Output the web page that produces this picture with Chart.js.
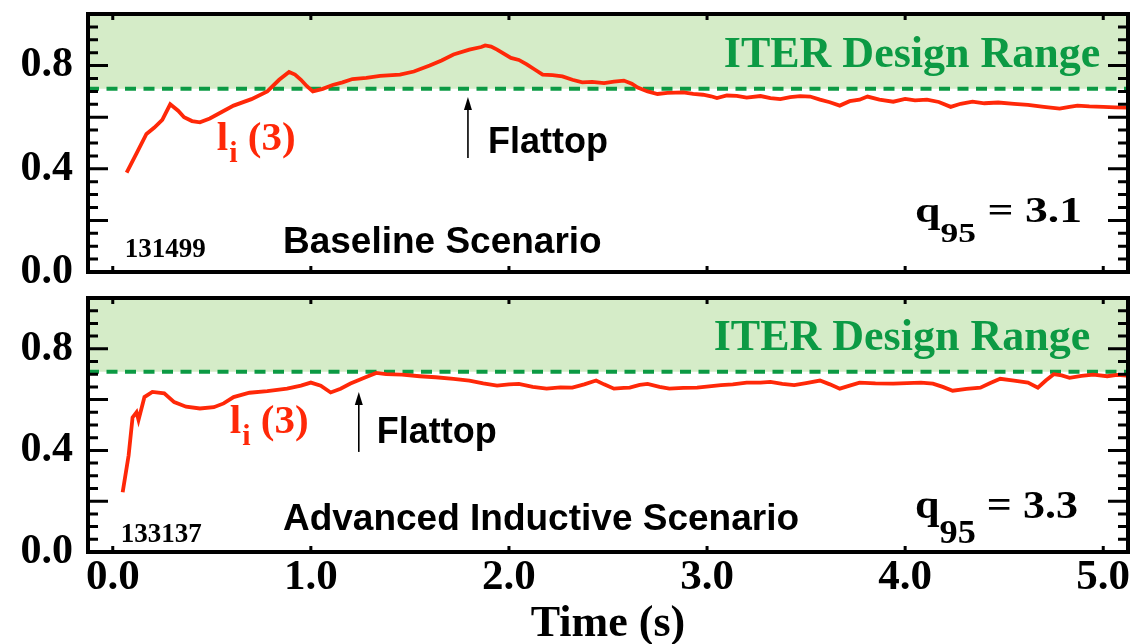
<!DOCTYPE html>
<html>
<head>
<meta charset="utf-8">
<title>li(3) vs ITER design range</title>
<script src="https://cdn.jsdelivr.net/npm/chart.js"></script>
<style>
  html, body { margin: 0; padding: 0; background: #fff; }
  #wrap { position: relative; width: 1134px; height: 644px; }
  #wrap canvas { position: absolute; left: 0; top: 0; }
</style>
</head>
<body>
<div id="wrap">
  <canvas id="topChart" width="1134" height="644"></canvas>
  <canvas id="bottomChart" width="1134" height="644"></canvas>
</div>
<script>
// shot 131499 - baseline scenario
const timeTop = [0.07, 0.12, 0.17, 0.21, 0.25, 0.29, 0.33, 0.36, 0.40, 0.44, 0.49, 0.55, 0.61, 0.70, 0.78, 0.84, 0.89, 0.92, 0.95, 0.98,
  1.01, 1.06, 1.11, 1.16, 1.21, 1.28, 1.35, 1.45, 1.52, 1.60, 1.66, 1.72, 1.80, 1.86, 1.88, 1.91, 1.94, 2.01, 2.05, 2.09,
  2.13, 2.17, 2.22, 2.27, 2.32, 2.37, 2.42, 2.48, 2.53, 2.58, 2.62, 2.65, 2.70, 2.75, 2.80, 2.88, 2.93, 2.98, 3.02, 3.05,
  3.10, 3.15, 3.20, 3.27, 3.32, 3.37, 3.42, 3.47, 3.52, 3.57, 3.62, 3.67, 3.72, 3.77, 3.81, 3.87, 3.94, 4.00, 4.05, 4.11,
  4.17, 4.23, 4.28, 4.34, 4.40, 4.47, 4.55, 4.62, 4.70, 4.78, 4.83, 4.87, 4.93, 5.00, 5.06, 5.12];
const liTop = [0.385, 0.46, 0.535, 0.56, 0.59, 0.65, 0.625, 0.60, 0.585, 0.58, 0.595, 0.62, 0.645, 0.67, 0.70, 0.745, 0.775, 0.765, 0.745, 0.72,
  0.70, 0.71, 0.725, 0.735, 0.748, 0.752, 0.76, 0.765, 0.777, 0.80, 0.82, 0.843, 0.862, 0.872, 0.878, 0.874, 0.862, 0.83, 0.822, 0.805,
  0.785, 0.765, 0.763, 0.758, 0.745, 0.735, 0.737, 0.732, 0.738, 0.742, 0.73, 0.715, 0.70, 0.69, 0.694, 0.696, 0.69, 0.687, 0.681, 0.674,
  0.684, 0.683, 0.676, 0.682, 0.674, 0.67, 0.678, 0.682, 0.68, 0.668, 0.658, 0.645, 0.662, 0.668, 0.68, 0.668, 0.66, 0.671, 0.665, 0.668,
  0.659, 0.64, 0.652, 0.66, 0.654, 0.657, 0.652, 0.648, 0.64, 0.633, 0.64, 0.645, 0.642, 0.64, 0.638, 0.637];

// shot 133137 - advanced inductive scenario
const timeBottom = [0.05, 0.08, 0.10, 0.12, 0.13, 0.16, 0.20, 0.26, 0.31, 0.37, 0.44, 0.51, 0.56, 0.61, 0.69, 0.78, 0.88, 0.95, 1.00, 1.05,
  1.10, 1.15, 1.20, 1.27, 1.33, 1.38, 1.46, 1.55, 1.63, 1.72, 1.80, 1.87, 1.94, 2.00, 2.05, 2.12, 2.19, 2.26, 2.32, 2.38,
  2.44, 2.48, 2.53, 2.58, 2.61, 2.66, 2.70, 2.76, 2.81, 2.88, 2.95, 3.01, 3.07, 3.13, 3.20, 3.27, 3.32, 3.38, 3.44, 3.50,
  3.57, 3.62, 3.67, 3.72, 3.77, 3.85, 3.94, 4.01, 4.08, 4.14, 4.19, 4.24, 4.31, 4.38, 4.43, 4.48, 4.55, 4.62, 4.67, 4.71,
  4.75, 4.79, 4.83, 4.89, 4.95, 5.02, 5.07, 5.12];
const liBottom = [0.235, 0.38, 0.53, 0.55, 0.52, 0.61, 0.63, 0.625, 0.59, 0.572, 0.565, 0.57, 0.585, 0.61, 0.627, 0.633, 0.643, 0.655, 0.667, 0.655,
  0.628, 0.643, 0.663, 0.686, 0.705, 0.70, 0.698, 0.692, 0.688, 0.682, 0.675, 0.664, 0.655, 0.66, 0.662, 0.65, 0.643, 0.648, 0.647, 0.66,
  0.675, 0.66, 0.643, 0.646, 0.647, 0.658, 0.662, 0.65, 0.643, 0.646, 0.647, 0.652, 0.657, 0.66, 0.667, 0.667, 0.67, 0.662, 0.657, 0.665,
  0.675, 0.66, 0.643, 0.655, 0.667, 0.664, 0.663, 0.665, 0.667, 0.663, 0.65, 0.635, 0.642, 0.647, 0.665, 0.682, 0.675, 0.667, 0.647, 0.675,
  0.70, 0.695, 0.686, 0.693, 0.698, 0.692, 0.697, 0.694];

// ITER design range for li(3)
const designLow = 0.71;
const designHigh = 1.0;

// axes
const timeMin = -0.125, timeMax = 5.125;
const xTickValues = [0, 1, 2, 3, 4, 5];
const xTickLabels = ['0.0', '1.0', '2.0', '3.0', '4.0', '5.0'];
const yTickValues = [0, 0.4, 0.8];
const yTickLabels = ['0.0', '0.4', '0.8'];

const RED = 'rgb(255,40,8)';
const GREEN = 'rgb(12,154,68)';
const BAND = 'rgb(213,236,200)';
const SERIF = '"Liberation Serif", "Times New Roman", serif';
const SANS = '"Liberation Sans", Arial, sans-serif';

function labelFor(values, labels, v) {
  const i = values.findIndex(t => Math.abs(t - v) < 1e-6);
  return i >= 0 ? labels[i] : '';
}

// frame with inward ticks on all four sides
const framePlugin = {
  id: 'frame',
  afterDatasetsDraw(chart) {
    const { ctx, chartArea: a, scales: { x, y } } = chart;
    ctx.save();
    ctx.strokeStyle = '#000';
    ctx.lineWidth = 3;
    ctx.beginPath();
    y.ticks.forEach(t => {
      const py = y.getPixelForValue(t.value);
      const major = Math.abs(t.value * 5 - Math.round(t.value * 5)) < 1e-6;
      const len = major ? 20 : 10;
      ctx.moveTo(a.left, py); ctx.lineTo(a.left + len, py);
      ctx.moveTo(a.right, py); ctx.lineTo(a.right - len, py);
    });
    xTickValues.forEach(v => {
      const px = x.getPixelForValue(v);
      ctx.moveTo(px, a.top); ctx.lineTo(px, a.top + 6);
      ctx.moveTo(px, a.bottom); ctx.lineTo(px, a.bottom - 6);
    });
    ctx.stroke();
    ctx.lineWidth = 4;
    ctx.strokeRect(a.left, a.top, a.right - a.left, a.bottom - a.top);
    ctx.restore();
  }
};

// panel text: design range, li(3), flattop arrow, scenario, shot, q95
const notesPlugin = {
  id: 'notes',
  afterDatasetsDraw(chart, args, n) {
    const { ctx, scales: { x, y } } = chart;
    const px = v => x.getPixelForValue(v);
    const py = v => y.getPixelForValue(v);
    ctx.save();
    ctx.textBaseline = 'alphabetic';

    ctx.fillStyle = GREEN;
    ctx.textAlign = 'right';
    ctx.font = 'bold 44px ' + SERIF;
    ctx.fillText('ITER Design Range', px(n.range.x), py(n.range.y));

    ctx.textAlign = 'left';
    ctx.fillStyle = RED;
    let lx = px(n.li.x);
    const ly = py(n.li.y);
    ctx.font = 'bold 41px ' + SERIF;
    ctx.fillText('l', lx, ly);
    lx += ctx.measureText('l').width + 1;
    ctx.font = 'bold 30px ' + SERIF;
    ctx.fillText('i', lx, ly + 12);
    lx += ctx.measureText('i').width;
    ctx.font = 'bold 41px ' + SERIF;
    ctx.fillText(' (3)', lx, ly);

    // flattop arrow
    const ax = px(n.arrow.x), ay0 = py(n.arrow.y0), ay1 = py(n.arrow.y1);
    ctx.strokeStyle = '#000';
    ctx.fillStyle = '#000';
    ctx.lineWidth = 1.6;
    ctx.beginPath();
    ctx.moveTo(ax, ay0); ctx.lineTo(ax, ay1 + 8);
    ctx.stroke();
    ctx.beginPath();
    ctx.moveTo(ax, ay1); ctx.lineTo(ax - 4, ay1 + 13); ctx.lineTo(ax + 4, ay1 + 13);
    ctx.closePath();
    ctx.fill();

    ctx.font = 'bold 36px ' + SANS;
    ctx.fillText('Flattop', px(n.flattop.x), py(n.flattop.y));
    ctx.font = 'bold 37px ' + SANS;
    ctx.fillText(n.scenario.text, px(n.scenario.x), py(n.scenario.y));

    ctx.font = 'bold 27px ' + SERIF;
    ctx.fillText(n.shot.text, px(n.shot.x), py(n.shot.y));

    // q95 label, set wide
    const q = n.q95;
    ctx.save();
    ctx.translate(px(q.x), py(q.y));
    ctx.scale(q.stretch, 1);
    let qx = 0;
    ctx.font = 'bold ' + q.size + 'px ' + SERIF;
    ctx.fillText('q', qx, 0);
    qx += ctx.measureText('q').width;
    ctx.font = 'bold ' + q.sub + 'px ' + SERIF;
    ctx.fillText('95', qx, q.drop);
    qx += ctx.measureText('95').width;
    ctx.font = 'bold ' + q.size + 'px ' + SERIF;
    ctx.fillText(' = ' + q.text, qx, 0);
    ctx.restore();

    ctx.restore();
  }
};

function makePanel(id, times, values, padding, showTime, notes) {
  const series = times.map((t, i) => ({ x: t, y: values[i] }));
  const bandEdge = [{ x: timeMin, y: designHigh }, { x: timeMax, y: designHigh }];
  const designLine = [{ x: timeMin, y: designLow }, { x: timeMax, y: designLow }];
  return new Chart(document.getElementById(id), {
    type: 'line',
    data: {
      datasets: [
        { data: series, borderColor: RED, borderWidth: 3.8, pointRadius: 0, tension: 0, fill: false, order: 1 },
        { data: designLine, borderColor: GREEN, borderWidth: 4, borderDash: [11, 7.5], pointRadius: 0, fill: false, order: 2 },
        { data: bandEdge, borderWidth: 0, borderColor: 'rgba(0,0,0,0)', backgroundColor: BAND, pointRadius: 0,
          fill: { value: designLow }, order: 3 }
      ]
    },
    options: {
      responsive: false,
      animation: false,
      events: [],
      layout: { padding: padding },
      plugins: { legend: { display: false }, tooltip: { enabled: false }, notes: notes },
      scales: {
        x: {
          type: 'linear',
          display: showTime,
          min: timeMin,
          max: timeMax,
          grid: { display: false, drawTicks: false },
          border: { display: false },
          ticks: {
            autoSkip: false,
            maxRotation: 0,
            padding: 4,
            color: '#000',
            font: { family: SERIF, size: 43, weight: 'bold', lineHeight: 1 },
            callback: v => labelFor(xTickValues, xTickLabels, v)
          },
          // whole seconds only
          afterBuildTicks(s) {
            s.ticks = xTickValues.map(v => ({ value: v }));
          },
          title: {
            display: true,
            text: 'Time (s)',
            color: '#000',
            padding: 0,
            font: { family: SERIF, size: 44, weight: 'bold', lineHeight: 0.86 }
          },
          afterFit(s) {
            s.height = showTime ? 92 : 0;
            s.paddingLeft = 0; s.paddingRight = 0;
          }
        },
        y: {
          type: 'linear',
          min: 0,
          max: 1,
          grid: { display: false, drawTicks: false },
          border: { display: false },
          ticks: {
            stepSize: 0.05,
            autoSkip: false,
            padding: 15,
            color: '#000',
            font: { family: SERIF, size: 42, weight: 'bold', lineHeight: 1 },
            callback: v => labelFor(yTickValues, yTickLabels, v)
          },
          afterFit(s) {
            s.width = 88;
            s.paddingTop = 0; s.paddingBottom = 0;
          }
        }
      }
    },
    plugins: [framePlugin, notesPlugin]
  });
}

makePanel('topChart', timeTop, liTop, { top: 14, right: 6, bottom: 372, left: 0 }, false, {
  range: { x: 4.985, y: 0.795 },
  li: { x: 0.525, y: 0.473 },
  arrow: { x: 1.793, y0: 0.442, y1: 0.678 },
  flattop: { x: 1.894, y: 0.461 },
  scenario: { text: 'Baseline Scenario', x: 0.859, y: 0.074 },
  shot: { text: '131499', x: 0.061, y: 0.058 },
  q95: { text: '3.1', x: 4.05, y: 0.194, size: 36, sub: 28, drop: 20, stretch: 1.27 }
});

makePanel('bottomChart', timeBottom, liBottom, { top: 298, right: 6, bottom: 0, left: 0 }, true, {
  range: { x: 4.934, y: 0.795 },
  li: { x: 0.591, y: 0.469 },
  arrow: { x: 1.242, y0: 0.394, y1: 0.630 },
  flattop: { x: 1.333, y: 0.429 },
  scenario: { text: 'Advanced Inductive Scenario', x: 0.859, y: 0.087 },
  shot: { text: '133137', x: 0.04, y: 0.039 },
  q95: { text: '3.3', x: 4.05, y: 0.134, size: 40, sub: 33, drop: 25, stretch: 1.1 }
});
</script>
</body>
</html>
